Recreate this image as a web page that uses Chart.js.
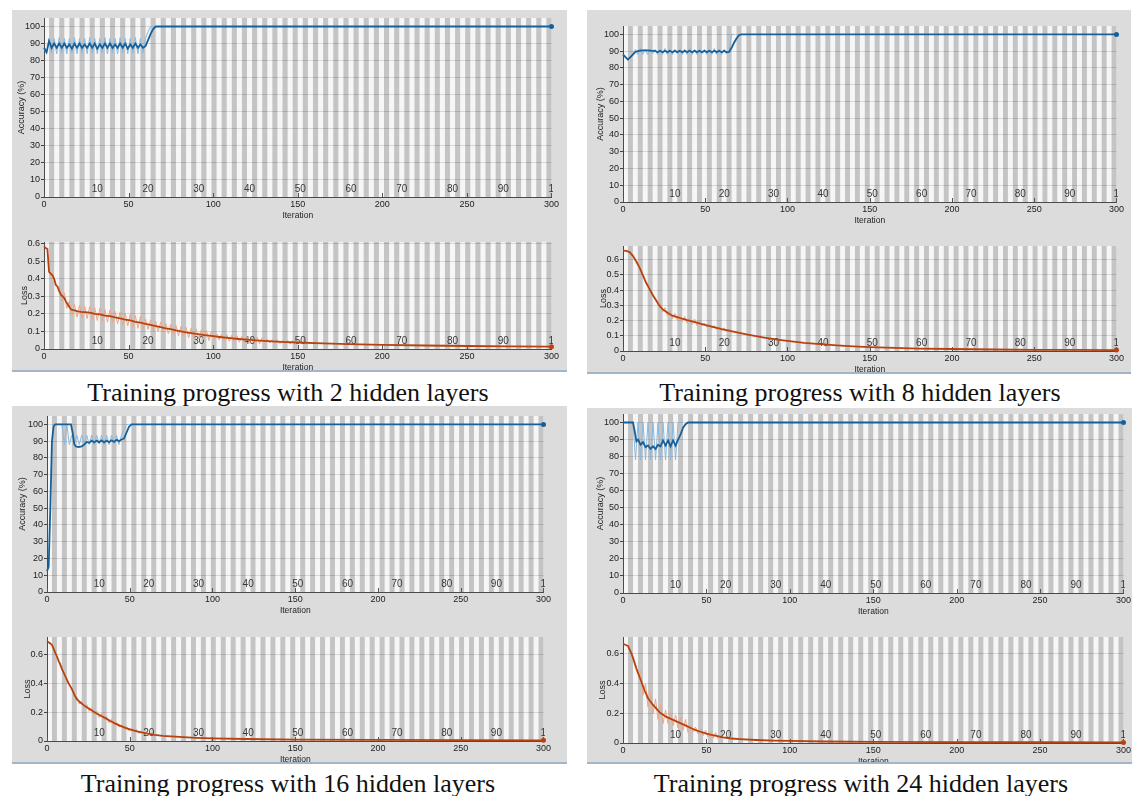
<!DOCTYPE html>
<html>
<head>
<meta charset="utf-8">
<script src="https://cdn.jsdelivr.net/npm/chart.js@4.4.1/dist/chart.umd.min.js"></script>
<style>
  body { margin: 0; width: 1134px; height: 796px; overflow: hidden; background: #fff; position: relative; }
  .panel { position: absolute; background: #dcdcdc; border-bottom: 2px solid #a3b5c9; box-sizing: border-box; overflow: hidden; }
  .panel canvas { position: absolute; }
  .caption { position: absolute; width: 560px; margin-left: -280px; text-align: center; white-space: nowrap;
             font-family: "Liberation Serif", "Times New Roman", serif; font-size: 26px; line-height: 26px; color: #111; }
</style>
</head>
<body>
<script>
// training run: 100 epochs x 3 iterations
const itersPerEpoch = 3;
const numEpochs = 100;
const iterationTicks = [0, 50, 100, 150, 200, 250, 300];
const accuracyTicks = [0, 10, 20, 30, 40, 50, 60, 70, 80, 90, 100];
const lossTicksFine = [0, 0.1, 0.2, 0.3, 0.4, 0.5, 0.6];
const lossTicksCoarse = [0, 0.2, 0.4, 0.6];
const epochLabels = [10, 20, 30, 40, 50, 60, 70, 80, 90, 100];
const captions = [
    'Training progress with 2 hidden layers',
    'Training progress with 8 hidden layers',
    'Training progress with 16 hidden layers',
    'Training progress with 24 hidden layers'
];

// ---- 2 hidden layers ----
const h2AccX = [0,1.5,3,4.5,6,7.5,9,10.5,12,13.5,15,16.5,18,19.5,21,22.5,24,25.5,27,28.5,30,31.5,33,34.5,36,37.5,39,40.5,42,43.5,45,46.5,48,49.5,51,52.5,54,55.5,57,58.5,60,61.5,63,64.5,66,300];
const h2AccY = [87.5,85,91.5,87.5,90,87.5,90,87.5,90,87.5, 89.5,87,90,87.5,90,87.5,89.5,87.5,90,87.5, 90,87,89.5,87.5,90,87.5,90,87.5,89.5,87.5, 90,87.5,90,87,89.5,87.5,90,87.5,89.5,87.5, 88.5,92,95.5,98.5,100,100];
const h2AccRaw = [87,84,93,84.5,93,84,93.5,84.5,93,84, 93,84.5,93.5,84,93,84.5,93,84,93.5,84.5, 93,84,93,84.5,93.5,84,93,84.5,93,84, 93.5,84.5,93,84,93,84.5,93.5,84,93,84.5, 93,97,100,100,100];
const h2LossX = [0,1,2,3,4,5,6,7,8,9,10,11,12,13,14,15,16,18,20,22,24,27,30,33,36,39,42,45,48,51,54,57,60,63,66,69,72,75,78,81,84,87,90,95,100,105,110,115,120,125,130,140,150,165,180,200,225,250,275,300];
const h2LossY = [0.585,0.575,0.57,0.44,0.43,0.42,0.4,0.365,0.355,0.33,0.31,0.3,0.29,0.27,0.255,0.24,0.225,0.22,0.215,0.212,0.21,0.207,0.2,0.197,0.19,0.187,0.18,0.175,0.168,0.163,0.155,0.15,0.143,0.138,0.13,0.125,0.118,0.113,0.106,0.101,0.095,0.091,0.086,0.079,0.073,0.067,0.062,0.057,0.053,0.049,0.046,0.041,0.037,0.032,0.028,0.024,0.02,0.017,0.015,0.013];
const h2LossRaw = [.36,.275,.32,.232,.275,.189,.255,.181,.249,.176, .245,.173,.242,.169,.235,.163,.232,.159,.225,.153, .222,.149,.215,.143,.21,.137,.203,.131,.198,.124, .19,.118,.185,.112,.171,.112,.166,.106,.158,.1, .153,.094,.146,.087,.141,.082,.134,.076,.129,.07, .123,.065,.119,.06,.114,.056,.11,.052,.106,.048, .102,.054,.088,.051,.085,.047,.082,.044,.079,.042, .076,.039,.073,.036,.071,.034,.069,.032,.067,.03, .065,.036,.055,.034,.053,.032,.052,.031,.05,.03, .049,.028,.048,.027,.047];

// ---- 8 hidden layers ----
const h8AccX = [0,1.5,3,4.5,6,7.5,9,10.5,12,15,18,19.5,21,22.5,24,25.5,27,28.5,30,31.5,33,34.5,36,37.5,39,40.5,42,43.5,45,46.5,48,49.5,51,52.5,54,55.5,57,58.5,60,61.5,63,64.5,66,67.5,69,70.5,72,300];
const h8AccY = [88,86.5,85,86.5,88,89.5,90,90.3,90.5,90.5,90.2, 90.2,89.3,90.2,89.3,90.2,89.4,90.2,89.3,90.2,89.4, 90.2,89.3,90.2,89.4,90.2,89.3,90.2,89.4,90.2,89.3, 90.2,89.4,90.2,89.3,90.2,89.4,90.2,89.3,90.2,89.3, 89.5,92,95,97.5,99.5,100,100];
const h8AccRaw = [84.5,87,88,91,88,91.5,88,91,88,91, 88.5,91,88,91,88,91.5,88,91,88,91, 88.5,91,88,91,88,91.5,88,91,88,91, 88.5,91,88,91,88,91.5,88,91,88,91, 88.5,90,100,100];
const h8LossX = [0,2,4,6,8,10,12,14,16,18,20,22,24,26,28,30,33,36,39,42,45,48,51,54,57,60,65,70,75,80,85,90,95,100,110,120,130,140,150,165,180,200,225,250,275,300];
const h8LossY = [0.66,0.658,0.65,0.625,0.59,0.55,0.5,0.45,0.41,0.37,0.335,0.3,0.275,0.26,0.245,0.232,0.222,0.212,0.203,0.195,0.186,0.177,0.168,0.16,0.152,0.144,0.132,0.12,0.109,0.099,0.09,0.081,0.073,0.066,0.054,0.045,0.037,0.031,0.026,0.02,0.016,0.013,0.01,0.008,0.007,0.006];
const h8LossRaw = [.313,.255,.284,.232,.262,.212,.247,.202,.237,.192, .227,.183,.219,.175,.21,.166,.193,.165,.184,.156, .176,.148,.168,.14,.16,.132,.152,.125,.146,.118];

// ---- 16 hidden layers ----
const h16AccX = [0,1,2,3,4,5,14.5,15.5,16.5,17.5,19,21,22.5,24,25.5,27,28.5,30,31.5,33,34.5,36,37.5,39,40.5,42,43.5,45,46.5,48,49.5,51,300];
const h16AccY = [12.5,15,50,90,99,100,100,95,88,86.8,86.5,86.8,88,89.5,89,90.3,89.2,90.3,89.3,90.4,89.2,90.3,89.4,90.5,89.5,90.8,90,91,91.5,95,98.5,100,100];
const h16AccRaw = [100,100,100,100,88,100,88,93.5,88,93.5, 88,93.5,88.5,93.5,88,93.5,88,93.5,88.5,93.5, 88,93.5,88,93.5,88.5,93.5,88,93.5,97,100, 100];
const h16LossX = [0,2,3,4,5,6,7,8,9,10,11,12,13,14,15,16,17,18,19,20,22,24,26,28,30,32,35,38,41,44,47,50,55,60,65,70,80,90,100,120,150,200,250,300];
const h16LossY = [0.69,0.675,0.665,0.64,0.61,0.585,0.555,0.53,0.5,0.475,0.45,0.425,0.4,0.38,0.36,0.335,0.31,0.29,0.28,0.268,0.25,0.234,0.22,0.205,0.19,0.178,0.16,0.14,0.122,0.106,0.093,0.081,0.065,0.052,0.043,0.036,0.028,0.022,0.018,0.014,0.01,0.008,0.006,0.005];
const h16LossRaw = [.308,.256,.277,.228,.252,.206,.23,.183,.208,.163, .19,.145,.171,.125,.152,.113,.128,.097,.114,.084, .101,.071,.09,.061,.08,.052,.072,.044,.064,.037, .058];

// ---- 24 hidden layers ----
const h24AccX = [0,6,7,8,9,10.5,12,13.5,15,16.5,18,19.5,21,22.5,24,25.5,27,28.5,30,31.5,33,34.5,36,37.5,39,300];
const h24AccY = [100,100,95,89,90,87,88.5,85.5,86.5,84.5,86,84.5,87,86,89.5,86.5,89.5,86,89.5,86.5,90,93,97,99,100,100];
const h24AccRaw = [100,78,100,78,100,78,100,78,100,78, 100,78,100,78,100,78,100,78,100,100];
const h24LossX = [0,2,3,4,5,6,7,8,9,10,11,12,13,14,15,16,17,18,20,22,24,26,28,30,32,34,36,38,40,42,44,46,48,50,53,56,60,65,70,80,90,100,120,150,200,250,300];
const h24LossY = [0.665,0.655,0.65,0.625,0.6,0.57,0.535,0.5,0.47,0.44,0.41,0.38,0.35,0.325,0.3,0.285,0.27,0.255,0.23,0.205,0.19,0.175,0.165,0.155,0.145,0.135,0.125,0.115,0.104,0.094,0.085,0.077,0.07,0.063,0.055,0.048,0.037,0.03,0.026,0.02,0.016,0.014,0.01,0.008,0.006,0.005,0.004];
const h24LossRaw = [.485,.32,.397,.24,.338,.195,.296,.158,.261,.13, .219,.13,.203,.115,.188,.1,.173,.085,.158,.07, .121,.074,.107,.061,.095,.05,.085,.04,.076,.032, .069,.026];

function paired(xs, ys) {
    return xs.map((x, i) => ({ x: x, y: ys[i] }));
}
// raw minibatch values sampled every `step` iterations from `start`
function onGrid(start, step, values) {
    return values.map((v, i) => ({ x: start + i * step, y: v }));
}

const ACC_DARK = '#15609a', ACC_LIGHT = '#8ab9de';
const LOSS_DARK = '#b8420f', LOSS_LIGHT = '#e9a98a';

Chart.defaults.font.family = '"Liberation Sans", Arial, sans-serif';

// grey/white epoch bands + epoch numbers, like the MATLAB training plot
const trainingBackdrop = {
    id: 'trainingBackdrop',
    beforeDraw(chart) {
        const { ctx, chartArea: a, scales: { x } } = chart;
        ctx.save();
        ctx.fillStyle = '#f6f6f6';
        ctx.fillRect(a.left, a.top, a.right - a.left, a.bottom - a.top);
        ctx.fillStyle = '#c4c4c4';
        for (let e = 2; e <= numEpochs; e += 2) {
            const x0 = x.getPixelForValue((e - 1) * itersPerEpoch);
            const x1 = x.getPixelForValue(e * itersPerEpoch);
            ctx.fillRect(x0, a.top, x1 - x0, a.bottom - a.top);
        }
        ctx.restore();
    },
    beforeDatasetsDraw(chart) {
        const { ctx, chartArea: a, scales: { x } } = chart;
        ctx.save();
        ctx.beginPath();
        ctx.rect(a.left, a.top, a.right - a.left + 1.5, a.bottom - a.top);
        ctx.clip();
        ctx.font = '10px "Liberation Sans", Arial, sans-serif';
        ctx.fillStyle = '#383838';
        ctx.textAlign = 'left';
        ctx.textBaseline = 'bottom';
        epochLabels.forEach(e => {
            ctx.fillText(String(e), x.getPixelForValue(e * itersPerEpoch) - 3, a.bottom - 3);
        });
        ctx.strokeStyle = '#555';
        ctx.lineWidth = 1;
        iterationTicks.forEach(v => {
            const px = Math.round(x.getPixelForValue(v)) + 0.5;
            ctx.beginPath();
            ctx.moveTo(px, a.bottom);
            ctx.lineTo(px, a.bottom - 4);
            ctx.stroke();
        });
        ctx.restore();
    }
};

const panels = [
    { box: [12, 10, 555, 362], capX: 288, capY: 380, caption: captions[0],
      acc:  { L: 44, R: 553, T: 18, B: 197, W: 28, max: 105, line: paired(h2AccX, h2AccY), raw: onGrid(0, 1.5, h2AccRaw) },
      loss: { L: 44, R: 553, T: 242, B: 349, W: 25, max: 0.61, ticks: lossTicksFine, line: paired(h2LossX, h2LossY), raw: onGrid(9, 1.5, h2LossRaw) } },
    { box: [587, 10, 544, 364], capX: 860, capY: 380, caption: captions[1],
      acc:  { L: 623, R: 1118, T: 26, B: 202, W: 28, max: 105, line: paired(h8AccX, h8AccY), raw: onGrid(3, 1.5, h8AccRaw) },
      loss: { L: 623, R: 1118, T: 246, B: 351, W: 25, max: 0.69, ticks: lossTicksFine, line: paired(h8LossX, h8LossY), raw: onGrid(22.5, 1.5, h8LossRaw) } },
    { box: [12, 406, 555, 358], capX: 288, capY: 771, caption: captions[2],
      acc:  { L: 47, R: 545, T: 416, B: 592, W: 30, max: 105, line: paired(h16AccX, h16AccY), raw: onGrid(4.5, 1.5, h16AccRaw) },
      loss: { L: 47, R: 545, T: 637, B: 741, W: 25, max: 0.72, ticks: lossTicksCoarse, line: paired(h16LossX, h16LossY), raw: onGrid(18, 1.5, h16LossRaw) } },
    { box: [587, 408, 545, 356], capX: 861, capY: 771, caption: captions[3],
      acc:  { L: 623, R: 1125, T: 414, B: 593, W: 28, max: 105, line: paired(h24AccX, h24AccY), raw: onGrid(6, 1.5, h24AccRaw) },
      loss: { L: 623, R: 1125, T: 637, B: 743, W: 26, max: 0.71, ticks: lossTicksCoarse, line: paired(h24LossX, h24LossY), raw: onGrid(10.5, 1.5, h24LossRaw) } }
];

const PAD_TOP = 8, PAD_RIGHT = 8, X_AXIS_H = 24;

function drawPlot(panelEl, box, spec, yTicks, yTitle, dark, light) {
    const canvas = document.createElement('canvas');
    const left = spec.L - spec.W, top = spec.T - PAD_TOP;
    const w = spec.R - spec.L + spec.W + PAD_RIGHT;
    const h = spec.B - spec.T + PAD_TOP + X_AXIS_H;
    canvas.width = w;
    canvas.height = h;
    canvas.style.left = (left - box[0]) + 'px';
    canvas.style.top = (top - box[1]) + 'px';
    canvas.style.width = w + 'px';
    canvas.style.height = h + 'px';
    panelEl.appendChild(canvas);

    const last = spec.line.length - 1;
    new Chart(canvas.getContext('2d'), {
        type: 'line',
        data: {
            datasets: [{
                data: spec.line,
                borderColor: dark,
                borderWidth: 1.8,
                pointRadius: c => c.dataIndex === last ? 2.5 : 0,
                pointBackgroundColor: dark,
                pointBorderWidth: 0,
                tension: 0,
                clip: false
            }, {
                data: spec.raw,
                borderColor: light,
                borderWidth: 1,
                pointRadius: 0,
                tension: 0
            }]
        },
        options: {
            responsive: false,
            animation: false,
            events: [],
            layout: { padding: { top: PAD_TOP, right: PAD_RIGHT, left: 0, bottom: 0 } },
            plugins: { legend: { display: false }, tooltip: { enabled: false } },
            scales: {
                x: {
                    type: 'linear', min: 0, max: 300,
                    afterBuildTicks: s => { s.ticks = iterationTicks.map(v => ({ value: v })); },
                    afterFit: s => { s.height = X_AXIS_H; },
                    grid: { display: false, drawTicks: false },
                    border: { display: true, color: '#4a4a4a' },
                    ticks: { padding: 2, maxRotation: 0, autoSkip: false, color: '#222', font: { size: 9 } },
                    title: { display: true, text: 'Iteration', color: '#222', font: { size: 8.5 }, padding: 0 }
                },
                y: {
                    min: 0, max: spec.max,
                    afterBuildTicks: s => { s.ticks = yTicks.map(v => ({ value: v })); },
                    afterFit: s => { s.width = spec.W; },
                    grid: { color: 'rgba(0,0,0,0.13)', tickColor: '#444', tickLength: 3 },
                    border: { display: true, color: '#4a4a4a' },
                    ticks: { padding: 1, color: '#222', font: { size: 9 } },
                    title: { display: true, text: yTitle, color: '#222', font: { size: 9 }, padding: 0 }
                }
            }
        },
        plugins: [trainingBackdrop]
    });
}

panels.forEach(p => {
    const el = document.createElement('div');
    el.className = 'panel';
    el.style.left = p.box[0] + 'px';
    el.style.top = p.box[1] + 'px';
    el.style.width = p.box[2] + 'px';
    el.style.height = p.box[3] + 'px';
    document.body.appendChild(el);

    drawPlot(el, p.box, p.acc, accuracyTicks, 'Accuracy (%)', ACC_DARK, ACC_LIGHT);
    drawPlot(el, p.box, p.loss, p.loss.ticks, 'Loss', LOSS_DARK, LOSS_LIGHT);

    const cap = document.createElement('div');
    cap.className = 'caption';
    cap.style.left = p.capX + 'px';
    cap.style.top = p.capY + 'px';
    cap.textContent = p.caption;
    document.body.appendChild(cap);
});
</script>
</body>
</html>
